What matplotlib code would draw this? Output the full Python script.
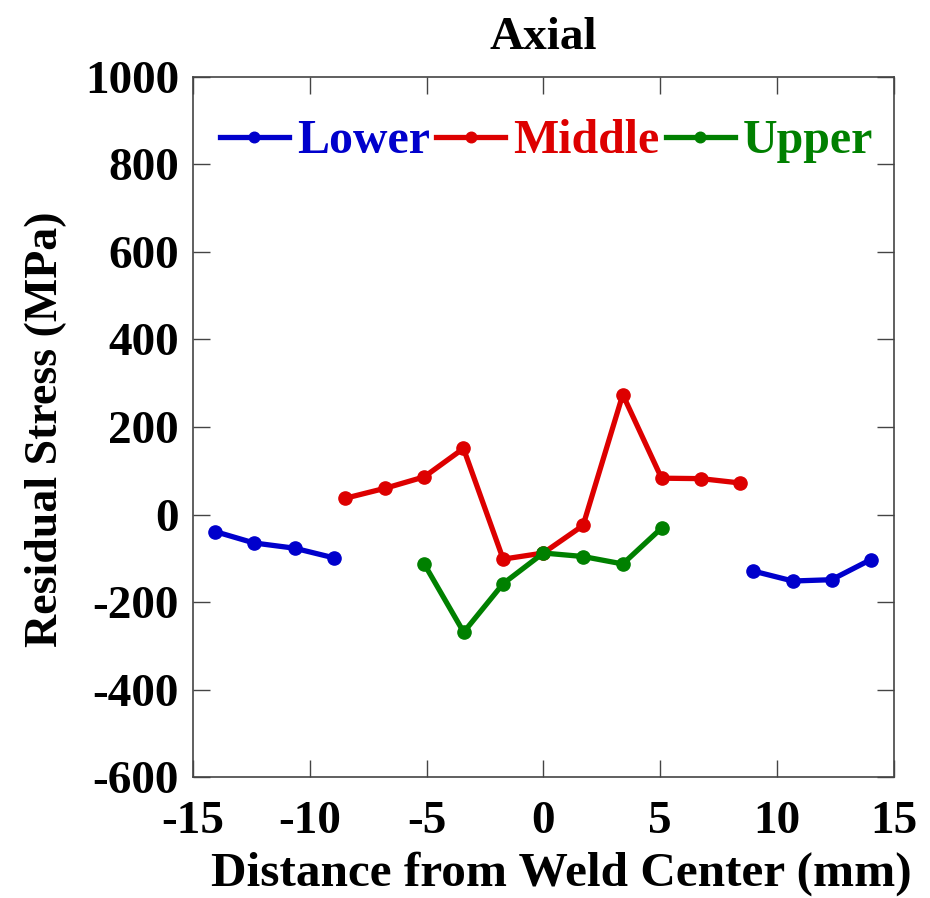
import matplotlib
matplotlib.use("Agg")
import matplotlib.pyplot as plt

# Data
lower_left_x = [-14.05, -12.39, -10.65, -8.97]
lower_left_y = [-39, -65, -77, -99]
lower_right_x = [8.97, 10.68, 12.34, 14.02]
lower_right_y = [-129, -152, -149, -103]
middle_x = [-8.49, -6.77, -5.10, -3.42, -1.72, 0.0, 1.70, 3.40, 5.06, 6.75, 8.43]
middle_y = [37, 60, 86, 151, -102, -88, -25, 274, 83, 82, 72]
upper_x = [-5.10, -3.41, -1.72, 0.0, 1.70, 3.40, 5.06]
upper_y = [-113, -269, -158, -88, -96, -113, -31]

xticks = [-15, -10, -5, 0, 5, 10, 15]
xticklabels = ['-15', '-10', '-5', '0', '5', '10', '15']
yticks = [-600, -400, -200, 0, 200, 400, 600, 800, 1000]
yticklabels = ['-600', '-400', '-200', '0', '200', '400', '600', '800', '1000']

blue = "#0000CC"
red = "#DD0000"
green = "#008000"

plt.rcParams['font.family'] = ['Liberation Serif', 'DejaVu Serif']
plt.rcParams['font.weight'] = 'bold'

fig = plt.figure(figsize=(9.30, 8.98), dpi=100)
ax = fig.add_axes([0.2075, 0.1347, 0.7535, 0.7796])

lw = 3.8
ms = 9.5
l1, = ax.plot(lower_left_x, lower_left_y, '-o', color=blue, lw=lw, ms=ms, label='Lower')
ax.plot(lower_right_x, lower_right_y, '-o', color=blue, lw=lw, ms=ms)
l2, = ax.plot(middle_x, middle_y, '-o', color=red, lw=lw, ms=ms, label='Middle')
l3, = ax.plot(upper_x, upper_y, '-o', color=green, lw=lw, ms=ms, label='Upper')

ax.set_xlim(-15, 15)
ax.set_ylim(-600, 1000)
ax.set_xticks(xticks)
ax.set_xticklabels(xticklabels)
ax.set_yticks(yticks)
ax.set_yticklabels(yticklabels)
ax.tick_params(direction='in', length=12, width=1, color='#444444', top=True, right=True,
               labelsize=34)
ax.tick_params(axis='y', pad=10)
ax.tick_params(axis='x', pad=17)
for lab in ax.get_xticklabels() + ax.get_yticklabels():
    lab.set_fontweight('bold')
for s in ax.spines.values():
    s.set_color('#444444')
    s.set_linewidth(1.2)

ax.set_title('Axial', fontsize=34, fontweight='bold', pad=20)
ax.set_xlabel('Distance from Weld Center (mm)', fontsize=35.5, fontweight='bold')
ax.set_ylabel('Residual Stress (MPa)', fontsize=33, fontweight='bold')
ax.xaxis.set_label_coords(0.525, -0.106)
ax.yaxis.set_label_coords(-0.18, 0.497)

leg = ax.legend(handles=[l1, l2, l3], loc='center left', bbox_to_anchor=(0.038, 0.908),
                ncol=3, frameon=False, handlelength=1.45, handletextpad=0.17,
                columnspacing=0.12, markerscale=0.8,
                prop={'family': 'Liberation Serif', 'weight': 'bold', 'size': 34.5},
                labelcolor='linecolor', borderaxespad=0, borderpad=0)

fig.savefig('out.png', dpi=100)
